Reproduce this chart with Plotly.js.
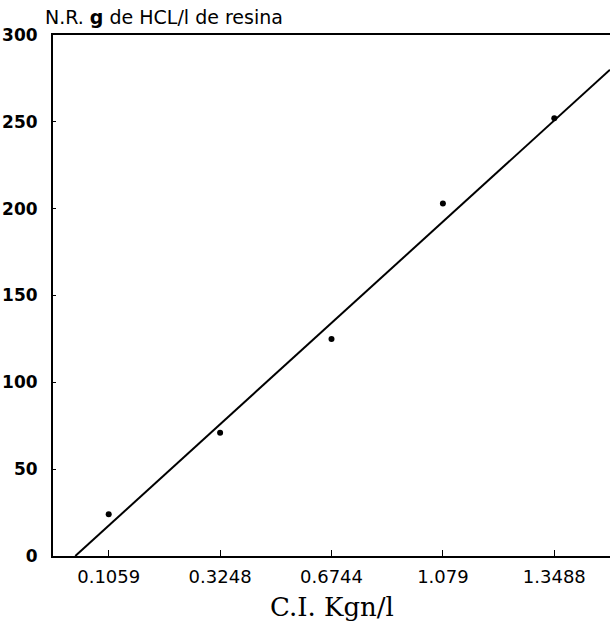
<!DOCTYPE html>
<html>
<head>
<meta charset="utf-8">
<script src="https://cdn.plot.ly/plotly-3.0.1.min.js"></script>
<style>html,body{margin:0;padding:0;background:#fff;}#chart{width:610px;height:632px;}</style>
</head>
<body>
<div id="chart"></div>
<script>
// Data
var tickLabels = ['0.1059', '0.3248', '0.6744', '1.079', '1.3488'];
var pointIndex = [0, 1, 2, 3, 4];
var nrValues = [24, 71, 125, 203, 252];
// Fitted line endpoints (x in category-position units)
var fitX = [-0.3, 4.5];
var fitY = [0, 280];

var W = 610, H = 632;
var m = {l: 53, r: 0, t: 35, b: 76};
var plotW = W - m.l - m.r, plotH = H - m.t - m.b;

var traces = [
  {x: fitX, y: fitY, mode: 'lines', type: 'scatter',
   line: {color: '#000', width: 2}, hoverinfo: 'skip'},
  {x: pointIndex, y: nrValues, mode: 'markers', type: 'scatter',
   marker: {color: '#000', size: 6}}
];

var layout = {
  width: W, height: H,
  margin: m,
  showlegend: false,
  paper_bgcolor: '#fff', plot_bgcolor: '#fff',
  font: {family: 'DejaVu Sans', color: '#000'},
  xaxis: {
    range: [-0.5, 4.5], tickvals: pointIndex, ticktext: tickLabels,
    ticks: 'inside', ticklen: 6, tickwidth: 1, tickcolor: '#000',
    showline: true, linewidth: 2, linecolor: '#000', mirror: true,
    showgrid: false, zeroline: false,
    tickfont: {family: 'DejaVu Sans', size: 18, color: '#000'},
    ticklabelstandoff: 3
  },
  yaxis: {
    range: [0, 300], dtick: 50, tick0: 0,
    ticks: 'inside', ticklen: 3, tickwidth: 1, tickcolor: '#000',
    showline: true, linewidth: 2, linecolor: '#000',
    showgrid: false, zeroline: false,
    tickfont: {family: 'DejaVu Sans', size: 17, color: '#000', weight: 'bold'},
    ticklabelstandoff: 10
  },
  annotations: [
    {text: 'N.R. <b>g</b> de HCL/l de resina', xref: 'paper', yref: 'paper',
     x: (43 - m.l) / plotW, y: 1 + (35 - 17) / plotH, xanchor: 'left', yanchor: 'middle',
     showarrow: false, font: {family: 'DejaVu Sans', size: 19, color: '#000'}},
    {text: 'C.I. Kgn/l', xref: 'paper', yref: 'paper',
     x: 0.5, y: -(607 - (H - m.b)) / plotH, xanchor: 'center', yanchor: 'middle',
     showarrow: false, font: {family: 'DejaVu Serif', size: 26, color: '#000'}}
  ]
};

Plotly.newPlot('chart', traces, layout, {staticPlot: true, displayModeBar: false});
</script>
</body>
</html>
